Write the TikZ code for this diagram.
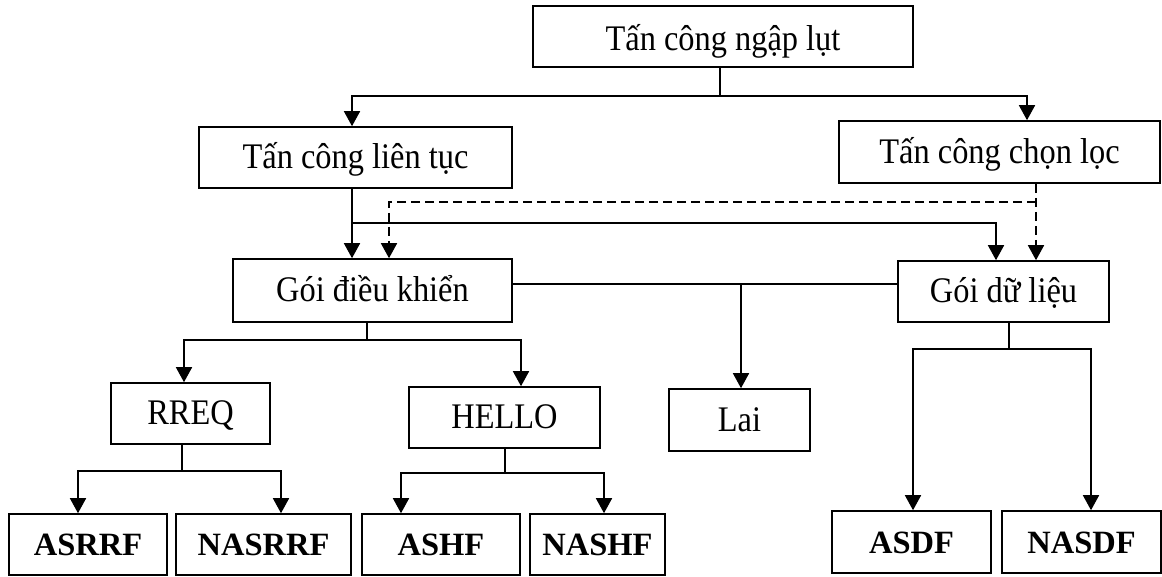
\documentclass[tikz,border=0pt]{standalone}
\usepackage{fontspec}
\setmainfont{Liberation Serif}
\newfontfamily\boxfont[FakeStretch=0.9]{Liberation Serif}
\usetikzlibrary{arrows.meta}

\tikzset{
  box/.style={draw, line width=1.6pt, rectangle, inner sep=0pt,
    text height=22pt, text depth=0pt,
    font=\boxfont\fontsize{36}{40}\selectfont},
  boldbox/.style={box, font=\bfseries\fontsize{32.5}{36}\selectfont},
  link/.style={line width=1.6pt},
  arr/.style={link, -{Triangle[width=16pt,length=15pt]}},
  dashlink/.style={arr, dash pattern=on 9pt off 5pt}
}

\begin{document}
\begin{tikzpicture}[x=1pt, y=-1pt]
\useasboundingbox (0,0) rectangle (1162,576);

% top level
\node[box, text height=28pt, minimum width=380pt, minimum height=61pt] (root) at (723,36.5) {Tấn công ngập lụt};

% attack types
\node[box, minimum width=313pt, minimum height=61pt] (cont) at (355.5,157.5) {Tấn công liên tục};
\node[box, minimum width=321pt, minimum height=62pt] (sel) at (999.5,152) {Tấn công chọn lọc};

% packet types
\node[box, minimum width=279pt, minimum height=63pt] (ctrl) at (372.5,290.5) {Gói điều khiển};
\node[box, minimum width=211pt, minimum height=61pt] (data) at (1003.5,291.5) {Gói dữ liệu};

% control packets and hybrid
\node[box, minimum width=159pt, minimum height=61pt] (rreq) at (190.5,413.5) {RREQ};
\node[box, minimum width=191pt, minimum height=61pt] (hello) at (504.5,417.5) {HELLO};
\node[box, minimum width=141pt, minimum height=62pt] (lai) at (739.5,420) {Lai};

% leaf attacks
\node[boldbox, minimum width=158pt, minimum height=61pt] (asrrf) at (88,544.5) {ASRRF};
\node[boldbox, minimum width=175pt, minimum height=61pt] (nasrrf) at (263.5,544.5) {NASRRF};
\node[boldbox, minimum width=158pt, minimum height=61pt] (ashf) at (441,544.5) {ASHF};
\node[boldbox, minimum width=135pt, minimum height=61pt] (nashf) at (597.5,544.5) {NASHF};
\node[boldbox, minimum width=159pt, minimum height=62pt] (asdf) at (911.5,542) {ASDF};
\node[boldbox, minimum width=159pt, minimum height=62pt] (nasdf) at (1081.5,542) {NASDF};

% root -> attack types
\draw[link] ([xshift=-3pt]root.south) -- ++(0,28) coordinate (j0);
\draw[arr] (j0) -| ([xshift=-3.5pt]cont.north);
\draw[arr] (j0) -| ([xshift=27.5pt]sel.north);

% continuous attack -> both packet types
\draw[arr] ([xshift=-3.5pt]cont.south) -- ([xshift=-20.5pt]ctrl.north);
\coordinate (j1) at ([xshift=-3.5pt,yshift=-34pt]cont.south);
\draw[arr] (j1) -| ([xshift=-7.5pt]data.north);

% selective attack -> both packet types (dashed)
\draw[dashlink] ([xshift=36.5pt]sel.south) -- ([xshift=32.5pt]data.north);
\coordinate (j2) at ([xshift=36.5pt,yshift=-18pt]sel.south);
\draw[dashlink] (j2) -| ([xshift=16.5pt]ctrl.north);

% control <-> data with hybrid branch
\coordinate (j3) at ([yshift=6.5pt]ctrl.east);
\draw[link] (j3) -- ([yshift=7.5pt]data.west);
\coordinate (laitop) at ([xshift=1.5pt]lai.north);
\draw[arr] (laitop |- j3) -- (laitop);

% control packet -> RREQ, HELLO
\draw[link] ([xshift=-5.5pt]ctrl.south) -- ++(0,17) coordinate (j4);
\draw[arr] (j4) -| ([xshift=-6.5pt]rreq.north);
\draw[arr] (j4) -| ([xshift=16.5pt]hello.north);

% RREQ -> ASRRF, NASRRF
\draw[link] ([xshift=-8.5pt]rreq.south) -- ++(0,26) coordinate (j5);
\draw[arr] (j5) -| ([xshift=-10pt]asrrf.north);
\draw[arr] (j5) -| ([xshift=17.5pt]nasrrf.north);

% HELLO -> ASHF, NASHF
\draw[link] ([xshift=0.5pt]hello.south) -- ++(0,24) coordinate (j6);
\draw[arr] (j6) -| ([xshift=-40pt]ashf.north);
\draw[arr] (j6) -| ([xshift=6.5pt]nashf.north);

% data packet -> ASDF, NASDF
\draw[link] ([xshift=5.5pt]data.south) -- ++(0,26) coordinate (j7);
\draw[arr] (j7) -| ([xshift=1.5pt]asdf.north);
\draw[arr] (j7) -| ([xshift=9.5pt]nasdf.north);
\end{tikzpicture}
\end{document}
